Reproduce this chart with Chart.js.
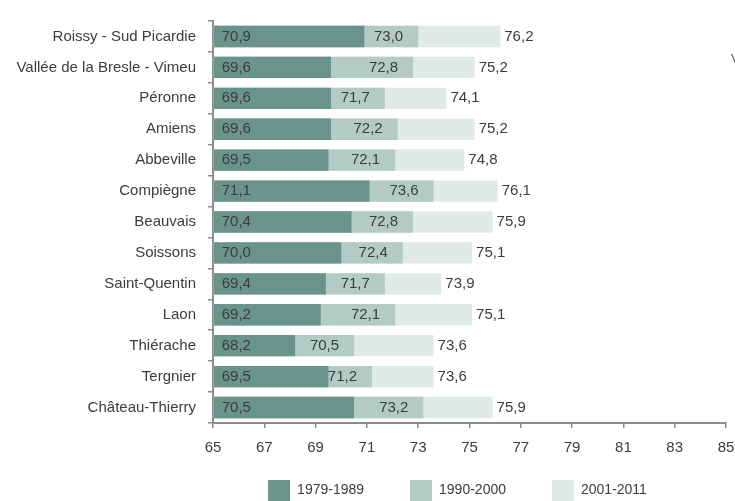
<!DOCTYPE html>
<html lang="fr">
<head>
<meta charset="utf-8">
<title>Espérance de vie par zone</title>
<script src="https://cdn.jsdelivr.net/npm/chart.js@4/dist/chart.umd.min.js"></script>
<style>
  html, body { margin: 0; padding: 0; background: #ffffff; }
  #wrap { position: relative; width: 735px; height: 501px; }
</style>
</head>
<body>
<div id="wrap"><canvas id="c" width="735" height="501"></canvas></div>
<script>
// Zones, top to bottom
const zones = [
  "Roissy - Sud Picardie", "Vallée de la Bresle - Vimeu", "Péronne", "Amiens",
  "Abbeville", "Compiègne", "Beauvais", "Soissons", "Saint-Quentin", "Laon",
  "Thiérache", "Tergnier", "Château-Thierry"
];
// Periods (legend order)
const periods = ["1979-1989", "1990-2000", "2001-2011"];
// Life expectancy per period
const v1979 = [70.9, 69.6, 69.6, 69.6, 69.5, 71.1, 70.4, 70.0, 69.4, 69.2, 68.2, 69.5, 70.5];
const v1990 = [73.0, 72.8, 71.7, 72.2, 72.1, 73.6, 72.8, 72.4, 71.7, 72.1, 70.5, 71.2, 73.2];
const v2001 = [76.2, 75.2, 74.1, 75.2, 74.8, 76.1, 75.9, 75.1, 73.9, 75.1, 73.6, 73.6, 75.9];
// Value axis
const axisMin = 65, axisMax = 85, axisStep = 2;

const colors = ["#6a948a", "#b3cbc5", "#e0eae7"];
const textColor = "#3c3c3c";
const axisColor = "#8c8c8c";
const fontFamily = "'Liberation Sans', Arial, sans-serif";

const fmt = v => v.toFixed(1).replace(".", ",");

// Value labels: first period at the bar start, second inside the bar end, third after the bar end
const valueLabels = {
  id: "valueLabels",
  afterDatasetsDraw(chart) {
    const ctx = chart.ctx;
    ctx.save();
    ctx.font = "15px " + fontFamily;
    ctx.fillStyle = textColor;
    ctx.textBaseline = "middle";
    chart.data.datasets.forEach((ds, di) => {
      const meta = chart.getDatasetMeta(di);
      meta.data.forEach((bar, i) => {
        const txt = fmt(ds.data[i]);
        if (di === 0) {
          ctx.textAlign = "left";
          ctx.fillText(txt, bar.base + 8, bar.y);
        } else if (di === 1) {
          ctx.textAlign = "right";
          ctx.fillText(txt, bar.x - 15, bar.y);
        } else {
          ctx.textAlign = "left";
          ctx.fillText(txt, bar.x + 4, bar.y);
        }
      });
    });
    // clipped glyph at the right edge
    ctx.font = "13px " + fontFamily;
    ctx.fillStyle = "#555555";
    ctx.textAlign = "left";
    ctx.fillText("V", 731, 59);
    ctx.restore();
  }
};

// Place the legend row under the value axis
const legendPlace = {
  id: "legendPlace",
  afterLayout(chart) {
    const lg = chart.legend;
    const h = lg.height;
    lg.top = 480 - lg.options.labels.padding;
    lg.bottom = lg.top + h;
    lg.left -= 12;
    lg.right -= 12;
  }
};

new Chart(document.getElementById("c"), {
  type: "bar",
  data: {
    labels: zones,
    datasets: [
      { label: periods[0], data: v1979, backgroundColor: colors[0] },
      { label: periods[1], data: v1990, backgroundColor: colors[1] },
      { label: periods[2], data: v2001, backgroundColor: colors[2] }
    ]
  },
  options: {
    indexAxis: "y",
    responsive: false,
    animation: false,
    devicePixelRatio: 1,
    layout: { padding: { top: 13, right: 9, left: 0, bottom: -39 } },
    datasets: {
      bar: {
        grouped: false,
        base: axisMin,
        categoryPercentage: 1,
        barPercentage: 0.69,
        borderWidth: 0
      }
    },
    scales: {
      x: {
        min: axisMin,
        max: axisMax,
        afterFit: s => { s.height = 40; s.paddingLeft = 0; s.paddingRight = 0; },
        afterBuildTicks: s => {
          const t = [];
          for (let v = axisMin; v <= axisMax; v += axisStep) t.push({ value: v });
          s.ticks = t;
        },
        ticks: {
          color: textColor,
          font: { family: fontFamily, size: 15 },
          padding: 11,
          maxRotation: 0,
          autoSkip: false
        },
        grid: { drawOnChartArea: false, drawTicks: true, tickLength: 5, color: axisColor, lineWidth: 1.5 },
        border: { display: true, color: axisColor, width: 2 }
      },
      y: {
        afterFit: s => { s.width = 213; },
        ticks: {
          color: textColor,
          font: { family: fontFamily, size: 15 },
          padding: 12,
          autoSkip: false
        },
        grid: { drawOnChartArea: false, drawTicks: true, tickLength: 5, color: axisColor, lineWidth: 1.5, offset: true },
        border: { display: true, color: axisColor, width: 2 }
      }
    },
    plugins: {
      tooltip: { enabled: false },
      legend: {
        position: "bottom",
        fullSize: false,
        labels: {
          boxWidth: 22,
          boxHeight: 21,
          padding: 46,
          color: textColor,
          font: { family: fontFamily, size: 14 }
        }
      }
    }
  },
  plugins: [valueLabels, legendPlace]
});
</script>
</body>
</html>
